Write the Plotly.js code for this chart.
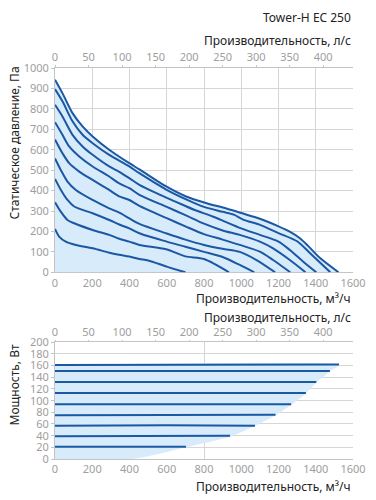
<!DOCTYPE html>
<html>
<head>
<meta charset="utf-8">
<script src="https://cdn.plot.ly/plotly-3.0.1.min.js"></script>
<style>html,body{margin:0;padding:0;background:#fff}#chart{width:376px;height:500px}</style>
</head>
<body>
<div id="chart"></div>
<script>
// ---- Pressure curves (flow m3/h, static pressure Pa) ----
const c1x = [0,40,94,148,202,291,399,453,597,704,800,920,1000,1100,1200,1260,1315,1360,1420,1522];
const c1y = [943,877,779,714,665,600,534,504,420,371,342,312,290,262,225,199,167,128,72,0];
const c2x = [0,40,94,148,202,291,399,453,597,704,800,900,960,1010,1100,1200,1300,1370,1478];
const c2y = [897,837,739,673,632,575,518,485,405,357,320,296,282,258,232,192,152,93,0];
const c3x = [0,40,94,148,202,291,345,399,453,550,650,750,850,1000,1100,1200,1261,1333,1403];
const c3y = [820,763,673,616,575,518,492,461,428,385,345,305,272,215,183,150,109,52,0];
const c4x = [0,40,76,130,202,291,345,399,453,600,700,800,900,992,1100,1171,1261,1345];
const c4y = [735,673,616,567,518,469,435,412,379,320,280,238,205,183,150,117,60,0];
const c5x = [0,40,76,130,202,291,345,399,453,600,700,800,900,992,1100,1171,1263];
const c5y = [650,583,534,493,452,403,372,354,325,265,225,187,160,134,101,60,0];
const c6x = [0,31,67,112,202,291,345,399,453,600,700,800,900,992,1082,1182];
const c6y = [557,501,444,403,354,313,292,264,237,190,160,134,115,100,60,0];
const c7x = [0,31,67,103,202,291,345,399,453,600,700,800,900,992,1070];
const c7y = [457,404,354,322,289,256,234,215,191,150,125,100,75,36,0];
const c8x = [0,31,67,103,202,291,345,399,453,597,700,800,934];
const c8y = [343,297,256,240,207,183,164,150,134,113,78,65,0];
const c9x = [0,22,58,112,202,291,345,399,453,500,600,700];
const c9y = [212,175,150,134,118,96,86,77,65,58,28,0];

// ---- Power lines (flow m3/h, power W) ----
const p1x = [0,800,1525], p1y = [161,161,162];
const p2x = [0,800,1476], p2y = [151,151,151];
const p3x = [0,800,1403], p3y = [132,132,132];
const p4x = [0,800,1347], p4y = [113,113,113];
const p5x = [0,800,1268], p5y = [94,94,94];
const p6x = [0,800,1184], p6y = [75,75,76];
const p7x = [0,600,1074], p7y = [57,58,57];
const p8x = [0,600,940],  p8y = [39,39,40];
const p9x = [0,400,703],  p9y = [21,21,21];
// envelope of the shaded power area
const envX = [0,420,550,703,940,1074,1184,1268,1347,1403,1476,1525,0];
const envY = [0,0,8,20,38,57,75,93,112,131,150,161,161];

// ---- Tick labels ----
const flowTicks = [0,200,400,600,800,1000,1200,1400,1600];
const lsTicks = [0,50,100,150,200,250,300,350,400];
const paTicks = [0,100,200,300,400,500,600,700,800,900,1000];
const wTicks = [0,20,40,60,80,100,120,140,160,180,200];

const LINE = '#1b58a3';
const FILL = '#d7ebfa';
const GRID = '#d6d6d6';
const AX = '#c4c4c4';
const TICKC = '#9e9e9e';
const TXT = '#222222';
const FONT = 'Noto Sans, Open Sans, sans-serif';

const pres = [[c1x,c1y],[c2x,c2y],[c3x,c3y],[c4x,c4y],[c5x,c5y],[c6x,c6y],[c7x,c7y],[c8x,c8y],[c9x,c9y]];
const pw = [[p1x,p1y],[p2x,p2y],[p3x,p3y],[p4x,p4y],[p5x,p5y],[p6x,p6y],[p7x,p7y],[p8x,p8y],[p9x,p9y]];

const traces = [];
traces.push({x:c1x, y:c1y, type:'scatter', mode:'lines', fill:'tozeroy', fillcolor:FILL,
  line:{color:'rgba(0,0,0,0)', width:0, shape:'spline', smoothing:0.8}, xaxis:'x', yaxis:'y', hoverinfo:'skip'});
pres.forEach(p => traces.push({x:p[0], y:p[1], type:'scatter', mode:'lines',
  line:{color:LINE, width:2, shape:'spline', smoothing:0.8}, xaxis:'x', yaxis:'y'}));
traces.push({x:[], y:[], type:'scatter', xaxis:'x2', yaxis:'y'});

traces.push({x:envX, y:envY, type:'scatter', mode:'lines', fill:'toself', fillcolor:FILL,
  line:{color:'rgba(0,0,0,0)', width:0, shape:'spline', smoothing:0.5}, xaxis:'x3', yaxis:'y2', hoverinfo:'skip'});
pw.forEach(p => traces.push({x:p[0], y:p[1], type:'scatter', mode:'lines',
  line:{color:LINE, width:2}, xaxis:'x3', yaxis:'y2'}));
traces.push({x:[], y:[], type:'scatter', xaxis:'x4', yaxis:'y2'});
traces.push({x:[], y:[], type:'scatter', xaxis:'x5', yaxis:'y2'});

const xd = [55/376, 353/376];
const tf = {family:FONT, size:11, color:TICKC};
const baseX = {domain:xd, range:[0,1600], tickvals:flowTicks, showline:true, linecolor:AX, linewidth:1,
  zeroline:false, tickfont:tf, ticks:'', fixedrange:true};
const baseLs = {domain:xd, range:[0,1600/3.6], tickvals:lsTicks, side:'top', showgrid:false, showline:true,
  linecolor:AX, zeroline:false, tickfont:tf, ticks:'outside', ticklen:2, tickcolor:AX};

const layout = {
  width:376, height:500, margin:{l:0,r:0,t:0,b:0}, paper_bgcolor:'#fff', plot_bgcolor:'rgba(0,0,0,0)',
  showlegend:false, font:{family:FONT},
  xaxis: Object.assign({}, baseX, {anchor:'y', showgrid:true, gridcolor:GRID, layer:'below traces'}),
  xaxis2: Object.assign({}, baseLs, {anchor:'y', overlaying:'x'}),
  yaxis: {domain:[1-272.3/500, 1-68/500], range:[0,1000], tickvals:paTicks, showgrid:true, gridcolor:GRID,
    showline:true, linecolor:AX, zeroline:false, tickfont:tf, ticks:'outside', ticklen:3, tickcolor:AX, anchor:'x'},
  xaxis3: Object.assign({}, baseX, {anchor:'y2', showgrid:false}),
  xaxis4: Object.assign({}, baseLs, {anchor:'y2', overlaying:'x3', ticklen:1}),
  xaxis5: {domain:xd, range:[0,1600], tickvals:[800,1600], showticklabels:false, showgrid:true, gridcolor:GRID,
    showline:false, zeroline:false, overlaying:'x3', anchor:'y2', ticks:''},
  yaxis2: {domain:[1-459/500, 1-342.3/500], range:[0,200], tickvals:wTicks, showgrid:true, gridcolor:GRID,
    showline:true, linecolor:AX, zeroline:false, tickfont:tf, ticks:'outside', ticklen:3, tickcolor:AX, anchor:'x3'},
  annotations: [
    {text:'Tower-H EC 250', xref:'paper', yref:'paper', x:353/376, y:1-17.3/500, xanchor:'right', yanchor:'middle', showarrow:false, font:{family:FONT, size:12, color:TXT}},
    {text:'Производительность, л/с', xref:'paper', yref:'paper', x:353/376, y:1-40.5/500, xanchor:'right', yanchor:'middle', showarrow:false, font:{family:FONT, size:12, color:TXT}},
    {text:'Производительность, м³/ч', xref:'paper', yref:'paper', x:353/376, y:1-298/500, xanchor:'right', yanchor:'middle', showarrow:false, font:{family:FONT, size:12, color:TXT}},
    {text:'Производительность, л/с', xref:'paper', yref:'paper', x:353/376, y:1-317/500, xanchor:'right', yanchor:'middle', showarrow:false, font:{family:FONT, size:12, color:TXT}},
    {text:'Производительность, м³/ч', xref:'paper', yref:'paper', x:353/376, y:1-486/500, xanchor:'right', yanchor:'middle', showarrow:false, font:{family:FONT, size:12, color:TXT}},
    {text:'Статическое давление, Па', xref:'paper', yref:'paper', x:13.5/376, y:1-143/500, xanchor:'center', yanchor:'middle', textangle:-90, showarrow:false, font:{family:FONT, size:12, color:TXT}},
    {text:'Мощность, Вт', xref:'paper', yref:'paper', x:13.5/376, y:1-385/500, xanchor:'center', yanchor:'middle', textangle:-90, showarrow:false, font:{family:FONT, size:12, color:TXT}}
  ]
};

Plotly.newPlot('chart', traces, layout, {staticPlot:true, displayModeBar:false});
</script>
</body>
</html>
